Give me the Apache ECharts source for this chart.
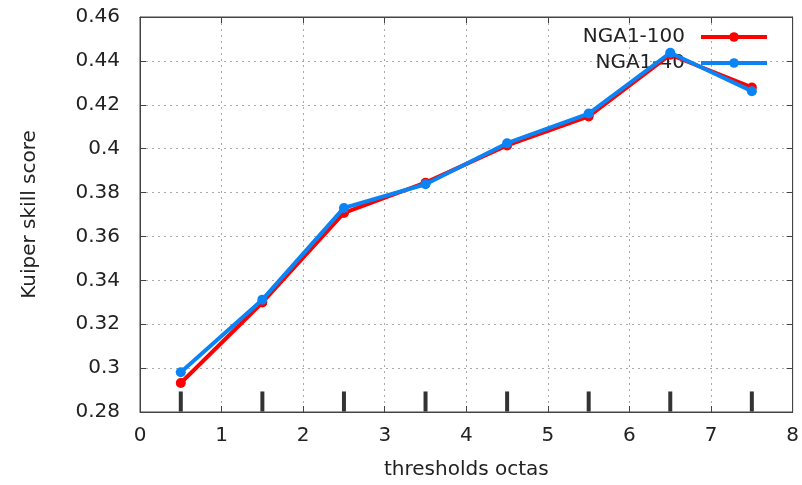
<!DOCTYPE html>
<html><head><meta charset="utf-8">
<script src="https://cdn.jsdelivr.net/npm/echarts@6/dist/echarts.min.js"></script>
<style>html,body{margin:0;padding:0;background:#fff}#c{width:802px;height:485px}</style>
</head><body><div id="c"></div>
<script>
const thresholds = [0.5, 1.5, 2.5, 3.5, 4.5, 5.5, 6.5, 7.5];
const nga100 = [0.2932, 0.3299, 0.3707, 0.3845, 0.4015, 0.4147, 0.4428, 0.4279];
const nga40  = [0.2981, 0.3312, 0.3730, 0.3838, 0.4025, 0.4160, 0.4437, 0.4262];
const markerLevel = 0.2848;
const seriesNames = ['NGA1-100', 'NGA1-40'];

const font = 'DejaVu Sans';
const txt = '#222';
const chart = echarts.init(document.getElementById('c'), null, {renderer: 'canvas'});
const pairs = (ys) => thresholds.map((x, i) => [x, ys[i]]);
const axisCommon = {
  axisLine: {show: true, onZero: false, lineStyle: {color: '#444', width: 1}},
  axisTick: {show: true, inside: true, length: 6, lineStyle: {color: '#444'}},
};
const legendCommon = {align: 'right', orient: 'vertical', z: 1, right: 28,
  itemWidth: 66, itemHeight: 12, lineStyle: {width: 4},
  textStyle: {fontFamily: font, fontSize: 20, color: txt, padding: [0, 11, 0, 0]}};
chart.setOption({
  animation: false,
  grid: {left: 140, right: 6, top: 17, bottom: 71, show: true, borderColor: '#444', borderWidth: 1},
  xAxis: [
    Object.assign({type: 'value', min: 0, max: 8, interval: 1,
      name: 'thresholds octas', nameLocation: 'middle', nameGap: 48,
      nameTextStyle: {fontFamily: font, fontSize: 20, color: txt},
      axisLabel: {fontFamily: font, fontSize: 20, color: txt, margin: 14},
      splitLine: {show: true, lineStyle: {color: '#aaa', type: [2, 4], width: 1}}}, axisCommon),
    Object.assign({type: 'value', min: 0, max: 8, interval: 1, position: 'top',
      axisLabel: {show: false}, splitLine: {show: false}}, axisCommon)
  ],
  yAxis: [
    Object.assign({type: 'value', min: 0.28, max: 0.46, interval: 0.02,
      name: 'Kuiper skill score', nameLocation: 'middle', nameGap: 100,
      nameTextStyle: {fontFamily: font, fontSize: 20, color: txt},
      axisLabel: {fontFamily: font, fontSize: 20, color: txt, margin: 20},
      splitLine: {show: true, lineStyle: {color: '#aaa', type: [2, 4], width: 1}}}, axisCommon),
    Object.assign({type: 'value', min: 0.28, max: 0.46, interval: 0.02, position: 'right',
      axisLabel: {show: false}, splitLine: {show: false}}, axisCommon)
  ],
  legend: [
    Object.assign({data: [seriesNames[0]], top: 22}, legendCommon),
    Object.assign({data: [seriesNames[1]], top: 48}, legendCommon)
  ],
  series: [
    {name: seriesNames[0], type: 'line', data: pairs(nga100), color: '#ff0000',
     lineStyle: {width: 4, color: '#ff0000'}, symbol: 'circle', symbolSize: 10,
     itemStyle: {color: '#ff0000'}, z: 3},
    {name: seriesNames[1], type: 'line', data: pairs(nga40), color: '#0a84f5',
     lineStyle: {width: 4, color: '#0a84f5'}, symbol: 'circle', symbolSize: 10,
     itemStyle: {color: '#0a84f5'}, z: 4},
    {name: 'marks', type: 'scatter', data: thresholds.map(x => [x, markerLevel]),
     symbol: 'rect', symbolSize: [4, 20], itemStyle: {color: '#000'}, z: 2, silent: true}
  ]
});
</script></body></html>
